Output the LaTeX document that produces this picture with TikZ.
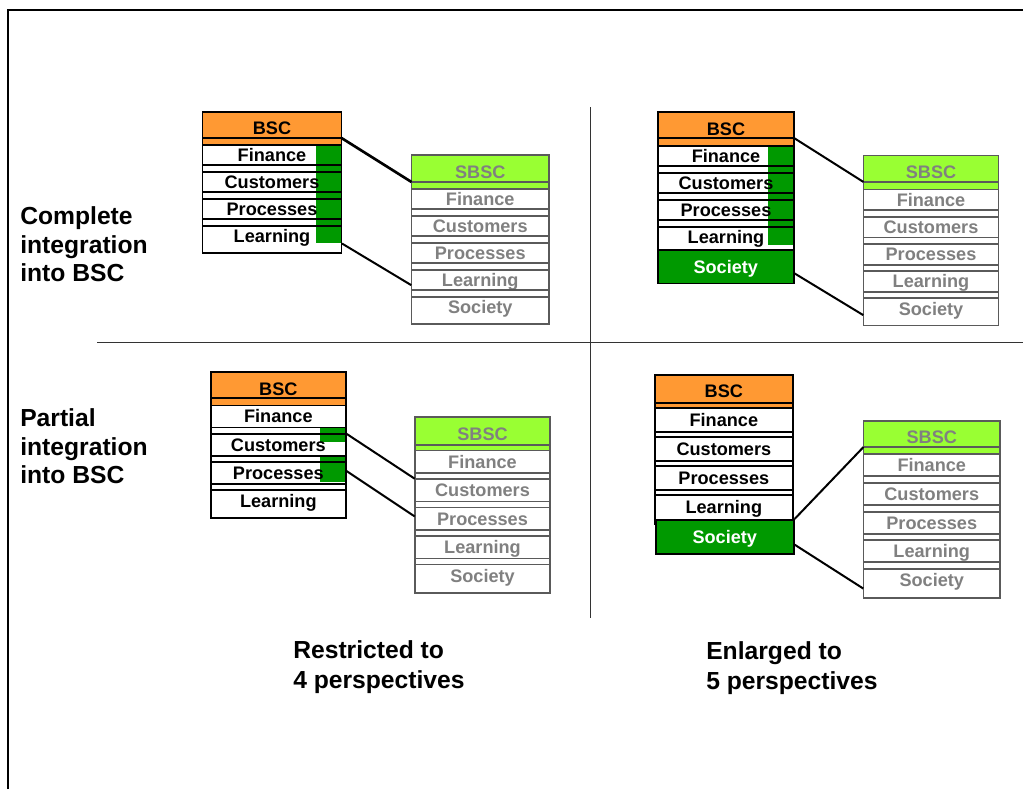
\documentclass[tikz,border=0pt]{standalone}
\usepackage{fontspec}
\setmainfont{Liberation Sans}
\usetikzlibrary{calc}

\definecolor{bscorange}{HTML}{FF9933}
\definecolor{sbsclime}{HTML}{99FF33}
\definecolor{markgreen}{HTML}{009900}
\definecolor{sbscgray}{HTML}{808080}
\definecolor{sbscrule}{HTML}{5A5A5A}

\pgfdeclarelayer{under}
\pgfsetlayers{under,main}

\tikzset{
  cardtext/.style={inner sep=0pt, text height=9.7pt, text depth=0pt,
    font=\fontsize{13.6}{16}\selectfont\bfseries},
  bscline/.style={draw=black, line width=1.4pt},
  sbscline/.style={draw=sbscrule, line width=1.4pt},
  bschead/.style={fill=bscorange},
  sbschead/.style={fill=sbsclime},
  bsctext/.style={cardtext, text=black},
  sbsctext/.style={cardtext, text=sbscgray},
  greenmark/.style={fill=markgreen, inner sep=0pt, anchor=north west},
  societybox/.style={cardtext, fill=markgreen, draw=black, line width=1.4pt,
    text=white, anchor=north west},
  link/.style={draw=black, line width=1.5pt},
  caption/.style={inner sep=0pt, align=left, anchor=west,
    font=\fontsize{18.5}{21.4}\selectfont\bfseries},
  footcaption/.style={caption, font=\fontsize{18.5}{22.5}\selectfont\bfseries},
  divider/.style={draw=black!80, line width=0.75pt},
}

% geometry of the next card: header height, header strip, row pitch, row height
\newcommand\cardgeom[4]{\def\cgH{#1}\def\cgS{#2}\def\cgP{#3}\def\cgR{#4}}

% #1 name, #2 left, #3 top, #4 width, #5 kind (bsc/sbsc), #6 header, #7 rows
\newcommand\scorecard[7]{%
  \pgfmathsetmacro\cL{#2}%
  \pgfmathsetmacro\cT{#3}%
  \pgfmathsetmacro\cW{#4}%
  \pgfmathsetmacro\cR{\cL+\cW}%
  \pgfmathsetmacro\cHB{\cT+\cgH}%
  \pgfmathsetmacro\cRT{\cHB+\cgS}%
  \foreach \rowtxt [count=\n] in {#7} {\xdef\cN{\n}}%
  \pgfmathtruncatemacro\cLast{\cN-1}%
  \pgfmathsetmacro\cB{\cRT+\cN*\cgP}%
  \path[#5head] (\cL,\cT) rectangle (\cR,\cRT);
  \node[#5text, minimum width=\cW*0.75pt, minimum height=(\cgH+\cgS)*0.75pt]
    (#1-h) at ({\cL+\cW/2},{(\cT+\cRT)/2}) {#6};
  \coordinate (#1-hw) at (\cL,\cHB);
  \coordinate (#1-he) at (\cR,\cHB);
  \foreach \rowtxt [count=\k from 0] in {#7} {
    \pgfmathsetmacro\rowy{\cRT+\k*\cgP}
    \node[#5text, minimum width=\cW*0.75pt, minimum height=\cgR*0.75pt]
      (#1-\k) at ({\cL+\cW/2},{\rowy+\cgR/2}) {\rowtxt};
    \draw[#5line] (\cL,\rowy) -- (\cR,\rowy);
    \ifnum\k<\cLast
      \draw[#5line] (\cL,{\rowy+\cgR}) -- (\cR,{\rowy+\cgR});
    \fi
  }
  \draw[#5line] (\cL,\cHB) -- (\cR,\cHB);
  \draw[#5line] (\cL,\cT) rectangle (\cR,\cB);
}

\begin{document}
\begin{tikzpicture}[x=0.75pt, y=-0.75pt]
  \useasboundingbox (0,0) rectangle (1023,789);
  \begin{pgfonlayer}{under}
    \fill[white] (0,0) rectangle (1023,789);
    % shared perspectives marked in green
    \node[greenmark, minimum width=26*0.75pt, minimum height=98*0.75pt] (tlmark) at (315.5,145) {};
    \node[greenmark, minimum width=26*0.75pt, minimum height=99*0.75pt] (trmark) at (768,146) {};
    \node[greenmark, minimum width=25.7*0.75pt, minimum height=14*0.75pt] (blmarka) at (320,428) {};
    \node[greenmark, minimum width=25.7*0.75pt, minimum height=25*0.75pt] (blmarkb) at (320,456.7) {};
  \end{pgfonlayer}

  % outer frame
  \draw[line width=1.5pt] (8,789) -- (8,9.5) -- (1023,9.5);

  % quadrant dividers
  \draw[divider] (590,107) -- (590,618);
  \draw[divider] (97,342) -- (1023,342);

  % complete integration, four perspectives
  \cardgeom{26}{7}{27}{20}
  \scorecard{tlb}{202.5}{112}{139}{bsc}{BSC}{Finance,Customers,Processes,Learning}
  \cardgeom{27}{7}{27}{20}
  \scorecard{tls}{411.5}{155}{137.5}{sbsc}{SBSC}{Finance,Customers,Processes,Learning,Society}

  % complete integration, five perspectives
  \cardgeom{26}{8}{27}{20}
  \scorecard{trb}{658}{112}{136}{bsc}{BSC}{Finance,Customers,Processes,Learning}
  \node[societybox, minimum width=135.7*0.75pt, minimum height=33.5*0.75pt] (trsoc) at (657,249) {Society};
  \cardgeom{26.5}{7.5}{27.2}{20.8}
  \scorecard{trs}{863.5}{155.5}{135}{sbsc}{SBSC}{Finance,Customers,Processes,Learning,Society}

  % partial integration, four perspectives
  \cardgeom{26}{7.5}{28.2}{22}
  \scorecard{blb}{211}{372}{134.7}{bsc}{BSC}{Finance,Customers,Processes,Learning}
  \cardgeom{28}{5.5}{28.5}{22.5}
  \scorecard{bls}{415}{417}{135}{sbsc}{SBSC}{Finance,Customers,Processes,Learning,Society}

  % partial integration, five perspectives
  \cardgeom{28}{5}{29}{24}
  \scorecard{brb}{655}{375}{137.7}{bsc}{BSC}{Finance,Customers,Processes,Learning}
  \node[societybox, minimum width=137.7*0.75pt, minimum height=33.7*0.75pt] (brsoc) at (655,519) {Society};
  \cardgeom{26}{7}{28.8}{22}
  \scorecard{brs}{863.5}{421}{136.5}{sbsc}{SBSC}{Finance,Customers,Processes,Learning,Society}

  % links between the scorecards
  \draw[link, line width=2pt] (tlb-he) -- (tls-hw);
  \draw[link] (tlmark.south east) -- ($(tls-3.north west)!0.75!(tls-3.south west)$);
  \draw[link] (trb-he) -- (trs-hw);
  \draw[link] ($(trsoc.north east)!0.69!(trsoc.south east)$) -- ($(trs-4.north west)!0.8!(trs-4.south west)$);
  \draw[link] (blb-1.north east) -- (bls-1.north west);
  \draw[link] ($(blb-2.north east)!0.4!(blb-2.south east)$) -- ($(bls-2.north west)!0.4!(bls-2.south west)$);
  \draw[link] (brsoc.north east) -- (brs-hw);
  \draw[link] ($(brsoc.north east)!0.72!(brsoc.south east)$) -- ($(brs-4.north west)!0.87!(brs-4.south west)$);

  % captions
  \node[caption] (cap-complete) at (20,244.5) {Complete\\integration\\into BSC};
  \node[caption] (cap-partial) at (20,446.5) {Partial\\integration\\into BSC};
  \node[footcaption] (cap-restricted) at (293,667.5) {Restricted to\\4 perspectives};
  \node[footcaption] (cap-enlarged) at (706,668.5) {Enlarged to\\5 perspectives};
\end{tikzpicture}
\end{document}
